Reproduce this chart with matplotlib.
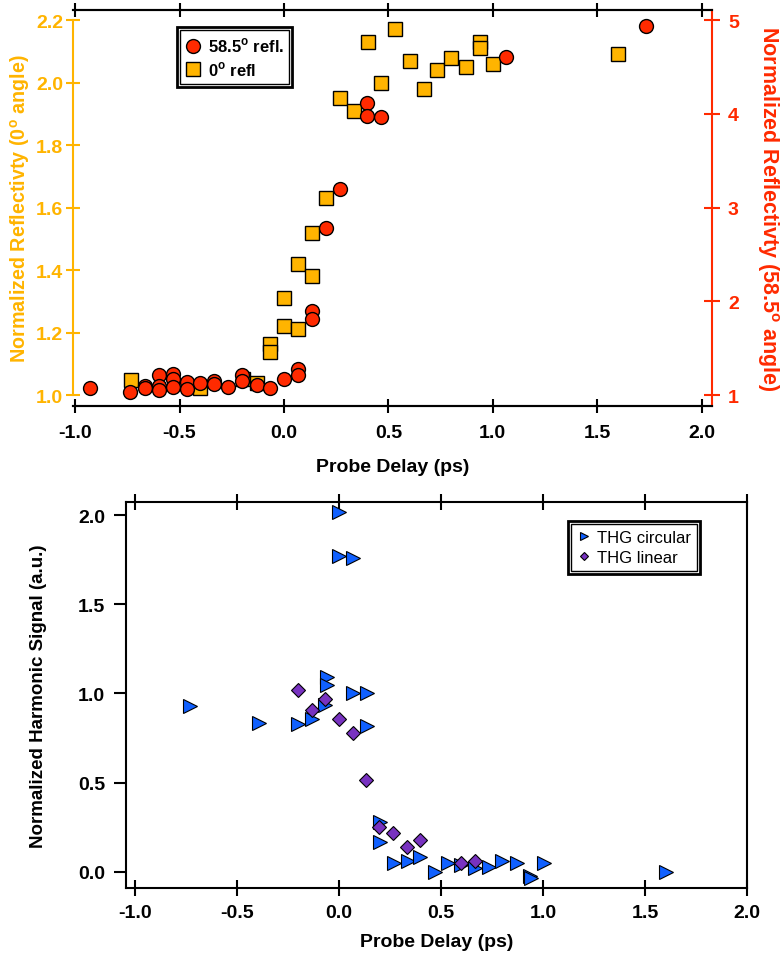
import matplotlib
matplotlib.use("Agg")
import matplotlib.pyplot as plt
from matplotlib.patches import Rectangle

plt.rcParams['font.family'] = ['Liberation Sans', 'DejaVu Sans']
plt.rcParams['mathtext.fontset'] = 'custom'
plt.rcParams['mathtext.rm'] = 'Liberation Sans'
plt.rcParams['mathtext.bf'] = 'Liberation Sans:bold'

ORANGE = '#FFB400'
RED = '#FF2A00'
BLUE = '#1060FF'
PURPLE = '#7832C0'

# top panel: reflectivity, 58.5 deg (right axis) and 0 deg (left axis)
delay_585 = [-0.93, -0.737, -0.665, -0.665, -0.60, -0.60, -0.60, -0.533, -0.533, -0.533,
             -0.466, -0.466, -0.40, -0.333, -0.333, -0.266, -0.20, -0.20, -0.13, -0.067,
             0.0, 0.068, 0.068, 0.135, 0.135, 0.20, 0.268, 0.40, 0.40, 0.467, 1.062, 1.733]
refl_585 = [1.07, 1.03, 1.10, 1.08, 1.21, 1.10, 1.05, 1.22, 1.17, 1.09,
            1.135, 1.06, 1.13, 1.15, 1.12, 1.09, 1.21, 1.15, 1.11, 1.07,
            1.17, 1.28, 1.21, 1.90, 1.81, 2.78, 3.20, 4.12, 3.98, 3.97, 4.61, 4.94]

delay_0 = [-0.733, -0.40, -0.198, -0.13, -0.067, -0.067, 0.0, 0.0, 0.068, 0.068,
           0.135, 0.135, 0.20, 0.268, 0.335, 0.403, 0.467, 0.534, 0.603, 0.67,
           0.735, 0.80, 0.87, 0.938, 0.938, 1.00, 1.60]
refl_0 = [1.049, 1.021, 1.05, 1.04, 1.163, 1.137, 1.31, 1.22, 1.42, 1.21,
          1.52, 1.38, 1.63, 1.95, 1.91, 2.13, 2.00, 2.17, 2.07, 1.98,
          2.04, 2.08, 2.05, 2.13, 2.11, 2.06, 2.09]

# bottom panel: harmonic signal
delay_circ = [0.0, 0.0, 0.07, -0.728, -0.06, -0.06, 0.07, 0.137, -0.067, -0.39,
              -0.198, -0.13, 0.137, 0.20, 0.20, 0.27, 0.338, 0.40, 0.47, 0.536,
              0.60, 0.667, 0.737, 0.80, 0.871, 0.936, 0.94, 1.005, 1.605]
thg_circ = [2.02, 1.77, 1.76, 0.93, 1.09, 1.045, 1.0, 1.0, 0.935, 0.835,
            0.83, 0.855, 0.82, 0.28, 0.165, 0.049, 0.058, 0.08, 0.0, 0.049,
            0.035, 0.02, 0.025, 0.058, 0.049, -0.022, -0.035, 0.049, -0.003]

delay_lin = [-0.20, -0.067, -0.132, 0.003, 0.067, 0.132, 0.199, 0.264, 0.333, 0.398,
             0.597, 0.667]
thg_lin = [1.017, 0.97, 0.908, 0.858, 0.78, 0.517, 0.25, 0.217, 0.14, 0.178,
           0.049, 0.058]

W, H = 782, 962
fig = plt.figure(figsize=(W / 100, H / 100), dpi=100)


def frac(x0, y0, x1, y1):
    return [x0 / W, 1 - y1 / H, (x1 - x0) / W, (y1 - y0) / H]


def double_frame(leg, pad=3):
    fig.canvas.draw()
    bb = leg.get_window_extent().transformed(fig.transFigure.inverted())
    px, py = pad / W, pad / H
    fig.patches.append(Rectangle((bb.x0 - px, bb.y0 - py), bb.width + 2 * px, bb.height + 2 * py,
                                 transform=fig.transFigure, fill=False, ec='black', lw=2))


tick_font = dict(fontsize=14, fontweight='bold')

# ---- top panel ----
ax = fig.add_axes(frac(73, 11, 712, 407))
ax2 = ax.twinx()
ax.plot(delay_0, refl_0, ls='none', marker='s', ms=9.5, mfc=ORANGE, mec='black', mew=1,
        label=r'0$^\mathbf{o}$ refl')
ax2.plot(delay_585, refl_585, ls='none', marker='o', ms=10, mfc=RED, mec='black', mew=1,
         label=r'58.5$^\mathbf{o}$ refl.')
ax.set_xlim(-1.01, 2.05)
ax.set_ylim(0.965, 2.232)
ax2.set_ylim(0.883, 5.107)
ax.set_xticks([-1.0, -0.5, 0.0, 0.5, 1.0, 1.5, 2.0])
ax.set_xticklabels(['-1.0', '-0.5', '0.0', '0.5', '1.0', '1.5', '2.0'], **tick_font)
ax.set_yticks([1.0, 1.2, 1.4, 1.6, 1.8, 2.0, 2.2])
ax.set_yticklabels(['1.0', '1.2', '1.4', '1.6', '1.8', '2.0', '2.2'], color=ORANGE, **tick_font)
ax2.set_yticks([1, 2, 3, 4, 5])
ax2.set_yticklabels(['1', '2', '3', '4', '5'], color=RED, **tick_font)
ax.tick_params(axis='x', direction='inout', length=10, width=1.5, top=True, pad=8)
ax.tick_params(axis='y', direction='inout', length=10, width=1.5, colors=ORANGE, pad=2)
ax2.tick_params(axis='y', direction='inout', length=11, width=1.5, colors=RED, pad=6)
ax.spines['left'].set_color(ORANGE)
ax.spines['left'].set_linewidth(1.5)
ax.spines['left'].set_bounds(1.0, 2.2)
ax2.spines['left'].set_visible(False)
ax2.spines['right'].set_color(RED)
ax2.spines['right'].set_linewidth(1.5)
for s in ['top', 'bottom']:
    ax.spines[s].set_linewidth(1.5)
    ax2.spines[s].set_linewidth(1.5)
ax.spines['right'].set_visible(False)
ax.set_xlabel('Probe Delay (ps)', fontsize=14, fontweight='bold', labelpad=12)
ax.set_ylabel(r'Normalized Reflectivty (0$^\mathbf{o}$ angle)', fontsize=14.2, fontweight='bold',
              color=ORANGE, labelpad=3)
ax2.set_ylabel(r'Normalized Reflectivty (58.5$^\mathbf{o}$ angle)', fontsize=15.5, fontweight='bold',
               color=RED, rotation=270, labelpad=30)

h1, l1 = ax.get_legend_handles_labels()
h2, l2 = ax2.get_legend_handles_labels()
leg1 = ax2.legend(h2 + h1, l2 + l1, loc='upper left', bbox_to_anchor=(180 / W, 1 - 31 / H),
                  bbox_transform=fig.transFigure, fancybox=False, framealpha=1, edgecolor='black',
                  prop=dict(size=12, weight='bold'), handlelength=0.8, handletextpad=0.5,
                  borderpad=0.35, labelspacing=0.3, borderaxespad=0)
leg1.get_frame().set_linewidth(1)

# ---- bottom panel ----
bx = fig.add_axes(frac(126, 503, 747, 889))
bx.plot(delay_circ, thg_circ, ls='none', marker='>', ms=10.5, mfc=BLUE, mec='black', mew=0.8,
        label='THG circular')
bx.plot(delay_lin, thg_lin, ls='none', marker='D', ms=7.5, mfc=PURPLE, mec='black', mew=0.8,
        label='THG linear')
bx.set_xlim(-1.043, 2.0)
bx.set_ylim(-0.092, 2.075)
bx.set_xticks([-1.0, -0.5, 0.0, 0.5, 1.0, 1.5, 2.0])
bx.set_xticklabels(['-1.0', '-0.5', '0.0', '0.5', '1.0', '1.5', '2.0'], **tick_font)
bx.set_yticks([0.0, 0.5, 1.0, 1.5, 2.0])
bx.set_yticklabels(['0.0', '0.5', '1.0', '1.5', '2.0'], **tick_font)
bx.tick_params(axis='x', direction='inout', length=11, width=1.5, top=True, pad=6)
bx.tick_params(axis='y', direction='out', length=9, width=1.5, pad=6)
for s in bx.spines.values():
    s.set_linewidth(1.5)
bx.set_xlabel('Probe Delay (ps)', fontsize=14, fontweight='bold', labelpad=9)
bx.set_ylabel('Normalized Harmonic Signal (a.u.)', fontsize=13.5, fontweight='bold', labelpad=22)
leg2 = bx.legend(loc='upper left', bbox_to_anchor=(571 / W, 1 - 525 / H),
                 bbox_transform=fig.transFigure, fancybox=False, framealpha=1, edgecolor='black',
                 prop=dict(size=12), markerscale=0.6, handlelength=0.8, handletextpad=0.4,
                 borderpad=0.35, labelspacing=0.3, borderaxespad=0)
leg2.get_frame().set_linewidth(1)

double_frame(leg1)
double_frame(leg2)

fig.savefig('out.png', dpi=100)
